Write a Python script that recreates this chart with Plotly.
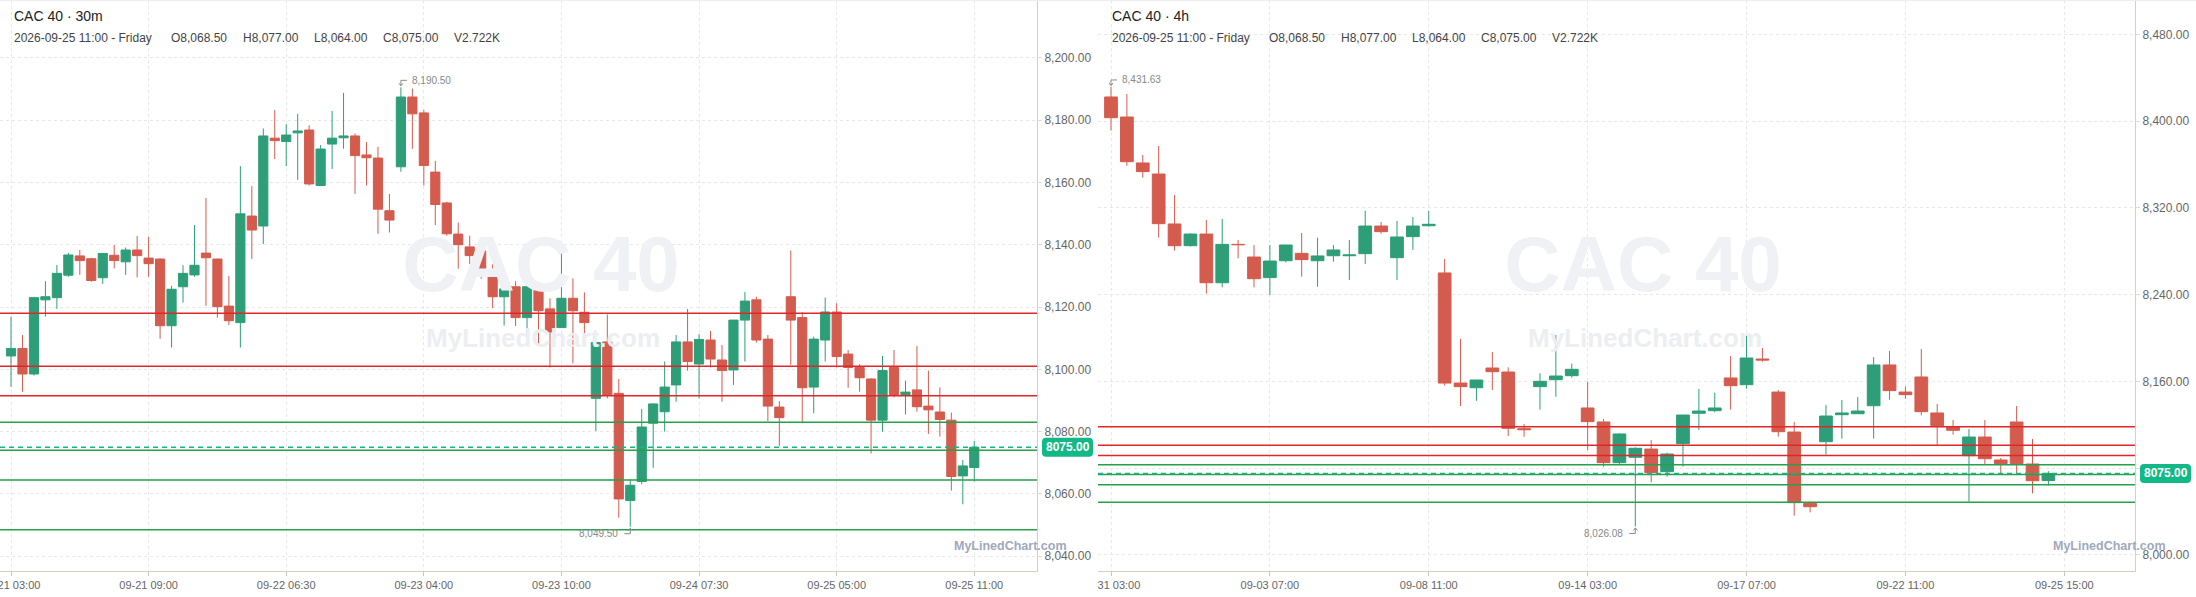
import plotly.graph_objects as go

W, H = 2196, 597
MB = 26
PH = H - MB

# ---------------- data: CAC 40 30m ----------------
left_open = [8104.3, 8106.7, 8098.5, 8122.3, 8123.0, 8130.2, 8136.4, 8135.5, 8129.4, 8136.6,
             8134.5, 8138.3, 8135.7, 8135.4, 8114.0, 8126.5, 8130.3, 8137.3, 8135.4, 8120.3,
             8115.0, 8149.2, 8146.0, 8174.2, 8173.1, 8175.9, 8176.8, 8159.0, 8172.3, 8174.3,
             8174.9, 8168.8, 8167.8, 8150.9, 8165.0, 8187.4, 8182.3, 8163.3, 8153.4, 8143.4,
             8139.3, 8138.0, 8130.9, 8123.3, 8126.5, 8116.6, 8126.5, 8119.4, 8113.4, 8122.8,
             8118.3, 8090.7, 8108.8, 8092.3, 8057.9, 8064.0, 8082.7, 8086.4, 8095.0, 8108.8,
             8101.7, 8109.4, 8103.0, 8099.8, 8115.8, 8122.3, 8109.7, 8087.9, 8123.3, 8116.6,
             8094.3, 8109.4, 8118.4, 8104.9, 8100.6, 8096.9, 8083.7, 8100.6, 8091.8, 8093.4,
             8088.2, 8086.3, 8083.7, 8065.8, 8068.5]
left_high = [8116.9, 8111.0, 8123.3, 8128.3, 8133.5, 8137.4, 8138.3, 8135.8, 8137.3, 8139.9,
             8139.1, 8142.8, 8142.5, 8135.6, 8126.8, 8133.4, 8146.3, 8155.0, 8135.5, 8130.0,
             8165.2, 8158.8, 8177.3, 8183.2, 8178.7, 8182.0, 8178.3, 8172.0, 8182.9, 8188.7,
             8175.7, 8172.9, 8171.4, 8156.3, 8190.5, 8190.1, 8183.2, 8166.9, 8153.8, 8147.1,
             8142.9, 8138.3, 8133.7, 8126.3, 8128.3, 8126.6, 8126.6, 8122.8, 8139.8, 8129.2,
             8124.7, 8108.6, 8117.6, 8096.9, 8064.7, 8087.3, 8089.0, 8102.5, 8111.0, 8119.4,
             8111.3, 8112.3, 8107.8, 8115.8, 8124.8, 8123.3, 8111.0, 8089.8, 8138.1, 8118.3,
             8110.5, 8123.0, 8121.2, 8106.2, 8101.7, 8097.1, 8104.3, 8106.2, 8096.4, 8107.5,
             8099.6, 8094.2, 8086.1, 8070.9, 8077.0]
left_low = [8094.4, 8092.8, 8098.0, 8116.9, 8119.4, 8129.7, 8130.3, 8128.1, 8127.4, 8132.4,
            8130.3, 8129.5, 8129.7, 8109.8, 8107.0, 8121.4, 8129.7, 8120.4, 8116.6, 8114.2,
            8107.0, 8135.4, 8140.2, 8167.5, 8165.2, 8160.8, 8159.0, 8158.8, 8164.3, 8170.8,
            8156.3, 8159.0, 8143.5, 8143.9, 8163.4, 8170.8, 8159.0, 8146.3, 8142.9, 8132.3,
            8133.8, 8129.1, 8119.6, 8114.0, 8113.9, 8110.3, 8107.6, 8100.6, 8113.4, 8101.9,
            8111.6, 8080.2, 8090.7, 8052.4, 8049.5, 8063.1, 8068.4, 8080.0, 8089.6, 8099.6,
            8090.7, 8100.6, 8089.6, 8095.0, 8102.5, 8108.6, 8083.4, 8075.4, 8101.4, 8082.7,
            8085.9, 8102.5, 8100.6, 8094.1, 8092.8, 8073.0, 8080.0, 8091.0, 8085.5, 8086.4,
            8079.3, 8078.4, 8061.1, 8056.7, 8064.0]
left_close = [8106.7, 8098.5, 8123.0, 8123.3, 8130.8, 8136.7, 8134.9, 8128.5, 8137.2, 8134.9,
              8138.3, 8136.5, 8133.9, 8114.0, 8125.7, 8130.8, 8133.4, 8135.8, 8120.1, 8115.6,
              8149.9, 8144.7, 8174.9, 8173.4, 8175.2, 8176.5, 8159.5, 8170.7, 8174.2, 8174.9,
              8168.6, 8167.9, 8151.4, 8147.9, 8187.4, 8182.0, 8165.4, 8152.9, 8143.5, 8140.0,
              8136.5, 8132.1, 8123.3, 8125.8, 8116.6, 8126.5, 8118.8, 8112.0, 8122.8, 8118.8,
              8115.0, 8108.6, 8091.8, 8058.4, 8062.8, 8081.5, 8088.9, 8094.3, 8108.8, 8102.5,
              8109.6, 8103.3, 8099.6, 8115.8, 8121.9, 8109.4, 8088.2, 8084.5, 8115.8, 8094.1,
              8109.7, 8118.4, 8104.1, 8100.6, 8097.3, 8083.7, 8099.6, 8091.8, 8092.7, 8088.0,
              8087.0, 8083.9, 8065.6, 8069.0, 8075.0]
left_tick_text = ["09-21 03:00", "09-21 09:00", "09-22 06:30", "09-23 04:00",
                  "09-23 10:00", "09-24 07:30", "09-25 05:00", "09-25 11:00"]
left_y_ticks = [8040, 8060, 8080, 8100, 8120, 8140, 8160, 8180, 8200]

# ---------------- data: CAC 40 4h ----------------
right_open = [8422.4, 8403.9, 8361.5, 8351.3, 8305.2, 8285.2, 8295.9, 8251.0, 8286.4, 8274.7,
              8255.7, 8271.3, 8278.1, 8271.3, 8275.9, 8275.9, 8277.8, 8303.3, 8274.1, 8293.5,
              8303.6, 8260.0, 8158.4, 8154.1, 8172.3, 8168.6, 8116.3, 8155.1, 8161.5, 8165.2,
              8135.4, 8122.5, 8084.9, 8089.9, 8097.5, 8076.6, 8102.5, 8130.5, 8132.9, 8163.1,
              8156.9, 8180.6, 8150.1, 8113.2, 8047.4, 8104.3, 8129.2, 8130.1, 8137.5, 8175.1,
              8150.1, 8164.0, 8130.8, 8117.8, 8091.4, 8108.6, 8087.4, 8122.5, 8083.7, 8068.5]
right_high = [8431.63, 8425.1, 8368.8, 8377.2, 8331.9, 8296.6, 8308.9, 8309.8, 8290.4, 8285.8,
              8285.8, 8286.0, 8296.9, 8292.6, 8285.8, 8290.4, 8317.5, 8307.0, 8307.9, 8311.6,
              8317.2, 8272.9, 8199.1, 8161.2, 8187.1, 8172.9, 8120.6, 8167.4, 8202.7, 8176.3,
              8159.7, 8125.2, 8112.0, 8099.1, 8105.8, 8094.2, 8128.9, 8152.9, 8149.5, 8183.4,
              8203.7, 8190.7, 8152.0, 8122.5, 8048.9, 8138.1, 8142.8, 8145.5, 8182.4, 8188.0,
              8155.1, 8189.8, 8139.1, 8124.3, 8116.0, 8124.3, 8089.2, 8137.2, 8106.8, 8077.0]
right_low = [8391.3, 8359.0, 8347.9, 8292.6, 8280.6, 8284.3, 8240.9, 8246.7, 8273.5, 8246.7,
             8239.7, 8269.8, 8256.6, 8247.3, 8270.4, 8253.5, 8268.3, 8296.3, 8253.5, 8281.2,
             8302.7, 8156.0, 8137.2, 8142.1, 8152.0, 8109.5, 8108.9, 8133.8, 8145.8, 8163.4,
             8096.6, 8081.2, 8082.8, 8026.08, 8066.8, 8072.0, 8081.2, 8115.1, 8131.4, 8133.8,
             8153.2, 8178.1, 8108.9, 8036.0, 8039.1, 8092.3, 8107.1, 8129.8, 8107.1, 8143.1,
             8144.0, 8128.6, 8100.6, 8110.8, 8048.9, 8083.1, 8074.8, 8073.5, 8056.6, 8064.0]
right_close = [8403.3, 8362.7, 8353.5, 8305.5, 8285.2, 8295.9, 8251.0, 8286.4, 8286.1, 8254.7,
               8271.0, 8285.8, 8272.3, 8275.7, 8281.2, 8276.6, 8303.3, 8298.1, 8293.2, 8303.3,
               8304.9, 8158.4, 8155.1, 8161.2, 8168.9, 8116.6, 8115.4, 8160.0, 8164.9, 8171.1,
               8122.8, 8084.9, 8111.4, 8098.2, 8075.7, 8092.9, 8128.9, 8132.6, 8135.4, 8156.0,
               8181.5, 8179.7, 8113.5, 8048.0, 8044.3, 8128.0, 8130.8, 8132.6, 8175.1, 8151.4,
               8147.7, 8132.0, 8119.1, 8114.8, 8108.6, 8088.6, 8084.0, 8084.0, 8068.3, 8075.0]
right_tick_text = ["08-31 03:00", "09-03 07:00", "09-08 11:00", "09-14 03:00",
                   "09-17 07:00", "09-22 11:00", "09-25 15:00"]
right_y_ticks = [8000, 8080, 8160, 8240, 8320, 8400, 8480]
right_y_hidden = [8080]   # label sits under the price tag in the reference

# levels drawn on both charts
red_levels = [8118.0, 8101.0, 8091.5]
green_levels = [8083.0, 8074.0, 8064.5, 8048.5]

header_title_left = "CAC 40 · 30m"
header_title_right = "CAC 40 · 4h"
header_items = ["2026-09-25 11:00 - Friday", "O8,068.50", "H8,077.00",
                "L8,064.00", "C8,075.00", "V2.722K"]

# ---------------- styling ----------------
GREEN = '#2e9e78'
RED = '#d35c4e'
LINE_RED = '#e0262a'
LINE_GREEN = '#26a04d'
PRICE = '#17b584'
TAN = '#d8cec3'
GRID = '#e8e8e8'
TICKC = '#666666'
FONT = 'Liberation Sans, Arial, Helvetica, sans-serif'

# panel geometry (pixels)
L_X0, L_X1 = 0, 1037
R_X0, R_X1 = 1098, 2135
L_XR = [-0.96, 89.47]
R_XR = [-0.818, 64.45]
L_YR = [8035.28, 8218.53]
R_YR = [7984.96, 8511.9]


def pxx(px):
    return px / W


def pxy(py):
    return (PH - py) / PH


def to_data_x(px, x0, x1, xr):
    return xr[0] + (px - x0) / (x1 - x0) * (xr[1] - xr[0])


def to_data_y(py, yr):
    return yr[0] + (PH - py) / PH * (yr[1] - yr[0])


fig = go.Figure()

# watermarks (below candles)
for (cx, xa, ya, x0, x1, xr, yr) in [
        (541, 'x', 'y', L_X0, L_X1, L_XR, L_YR),
        (1643, 'x2', 'y2', R_X0, R_X1, R_XR, R_YR)]:
    fig.add_trace(go.Scatter(
        x=[to_data_x(cx, x0, x1, xr)], y=[to_data_y(271, yr)],
        mode='text', text=['<b>CAC 40</b>'],
        textfont=dict(size=78, color='#f0f1f4', family=FONT),
        textposition='middle center', xaxis=xa, yaxis=ya,
        hoverinfo='skip', showlegend=False))
    fig.add_trace(go.Scatter(
        x=[to_data_x(cx + 2, x0, x1, xr)], y=[to_data_y(340, yr)],
        mode='text', text=['<b>MyLinedChart.com</b>'],
        textfont=dict(size=26, color='#eceef2', family=FONT),
        textposition='middle center', xaxis=xa, yaxis=ya,
        hoverinfo='skip', showlegend=False))

candle_style = dict(
    increasing=dict(line=dict(color=GREEN, width=1), fillcolor=GREEN),
    decreasing=dict(line=dict(color=RED, width=1), fillcolor=RED),
    whiskerwidth=0, showlegend=False, hoverinfo='skip')

fig.add_trace(go.Candlestick(
    x=list(range(len(left_open))), open=left_open, high=left_high,
    low=left_low, close=left_close, xaxis='x', yaxis='y', **candle_style))
fig.add_trace(go.Candlestick(
    x=list(range(len(right_open))), open=right_open, high=right_high,
    low=right_low, close=right_close, xaxis='x2', yaxis='y2', **candle_style))

shapes = []
annotations = []

# level lines + current price line
last_price = left_close[-1]
for xd, yr_ in [('x domain', 'y'), ('x2 domain', 'y2')]:
    for lv in red_levels:
        shapes.append(dict(type='line', xref=xd, x0=0, x1=1, yref=yr_, y0=lv, y1=lv,
                           line=dict(color=LINE_RED, width=1.5), layer='above'))
    for lv in green_levels:
        shapes.append(dict(type='line', xref=xd, x0=0, x1=1, yref=yr_, y0=lv, y1=lv,
                           line=dict(color=LINE_GREEN, width=1.5), layer='above'))
    shapes.append(dict(type='line', xref=xd, x0=0, x1=1, yref=yr_,
                       y0=last_price, y1=last_price,
                       line=dict(color=PRICE, width=1.5, dash='5px,4px'), layer='above'))

# price tags
tag_path = ("M 4,9.5 L 47,9.5 Q 51,9.5 51,5.5 L 51,-5.5 Q 51,-9.5 47,-9.5 "
            "L 4,-9.5 Q 0,-9.5 0,-5.5 L 0,5.5 Q 0,9.5 4,9.5 Z")
for ax_end, yr_ in [(L_X1, 'y'), (R_X1, 'y2')]:
    xa = pxx(ax_end + 5)
    shapes.append(dict(type='path', xref='paper', yref=yr_, xsizemode='pixel',
                       ysizemode='pixel', xanchor=xa, yanchor=last_price,
                       path=tag_path, fillcolor='#12b886', line=dict(width=0),
                       layer='above'))
    annotations.append(dict(xref='paper', yref=yr_, x=pxx(ax_end + 5 + 25.5),
                            y=last_price, text='<b>%.2f</b>' % last_price,
                            showarrow=False, xanchor='center', yanchor='middle',
                            font=dict(size=12, color='white', family=FONT)))


# max / min markers
def add_extremes(highs, lows, xref, yref):
    hi_i = max(range(len(highs)), key=lambda k: highs[k])
    lo_i = min(range(len(lows)), key=lambda k: lows[k])
    hv, lv = highs[hi_i], lows[lo_i]
    shapes.append(dict(type='path', xref=xref, yref=yref, xsizemode='pixel',
                       ysizemode='pixel', xanchor=hi_i, yanchor=hv,
                       path='M 6,7 L 0,7 L 0,1.5 M -2,4 L 0,1.5 L 2,4',
                       line=dict(color='#8a8a8a', width=1), layer='above'))
    annotations.append(dict(xref=xref, yref=yref, x=hi_i, y=hv, text=f"{hv:,.2f}",
                            showarrow=False, xanchor='left', yanchor='middle',
                            xshift=9, yshift=7,
                            font=dict(size=10, color='#888888', family=FONT)))
    shapes.append(dict(type='path', xref=xref, yref=yref, xsizemode='pixel',
                       ysizemode='pixel', xanchor=lo_i, yanchor=lv,
                       path='M -6,-7 L 0,-7 L 0,-1.5 M -2,-4 L 0,-1.5 L 2,-4',
                       line=dict(color='#8a8a8a', width=1), layer='above'))
    annotations.append(dict(xref=xref, yref=yref, x=lo_i, y=lv, text=f"{lv:,.2f}",
                            showarrow=False, xanchor='right', yanchor='middle',
                            xshift=-10, yshift=-7,
                            font=dict(size=10, color='#888888', family=FONT)))


add_extremes(left_high, left_low, 'x', 'y')
add_extremes(right_high, right_low, 'x2', 'y2')

# headers
for base, title in [(12, header_title_left), (1110, header_title_right)]:
    annotations.append(dict(xref='paper', yref='paper', x=pxx(base), y=pxy(16),
                            text=title, showarrow=False, xanchor='left', yanchor='middle',
                            font=dict(size=14, color='#222222', family=FONT)))
    offsets = [0, 157, 229, 300, 369, 440]
    for off, item in zip(offsets, header_items):
        annotations.append(dict(xref='paper', yref='paper', x=pxx(base + off), y=pxy(38),
                                text=item, showarrow=False, xanchor='left',
                                yanchor='middle',
                                font=dict(size=12, color='#444444', family=FONT)))

# small bottom-right watermarks
for right_edge in [1069, 2168]:
    annotations.append(dict(xref='paper', yref='paper', x=pxx(right_edge), y=pxy(546),
                            text='<b>MyLinedChart.com</b>', showarrow=False,
                            xanchor='right', yanchor='middle',
                            font=dict(size=12.5, color='#a0a9bb', family=FONT)))

# hide the part of the first right-panel tick label that spills into the gap
shapes.append(dict(type='rect', xref='paper', yref='paper',
                   x0=pxx(L_X1 + 1), x1=pxx(R_X0 - 0.5), y0=pxy(H + 2), y1=pxy(572),
                   fillcolor='white', line=dict(width=0), layer='above'))
# faint top border
shapes.append(dict(type='line', xref='paper', yref='paper', x0=0, x1=1,
                   y0=pxy(0.5), y1=pxy(0.5), line=dict(color='#eeeeee', width=1),
                   layer='above'))


def xaxis_cfg(dom, rng, tickvals, ticktext, anchor):
    return dict(domain=dom, range=rng, tickmode='array', tickvals=tickvals,
                ticktext=ticktext, showgrid=True, gridcolor=GRID, gridwidth=1,
                griddash='3px,3px', showline=True, linecolor=TAN, linewidth=1,
                ticks='outside', ticklen=4, tickcolor='#cfc6bb',
                tickfont=dict(size=11, color=TICKC, family=FONT), zeroline=False,
                rangeslider=dict(visible=False), ticklabeloverflow='allow',
                fixedrange=True, anchor=anchor)


def yaxis_cfg(rng, tickvals, anchor, hidden=()):
    texts = ['' if v in hidden else f"{v:,.2f}" for v in tickvals]
    return dict(domain=[0, 1], range=rng, side='right', anchor=anchor,
                tickmode='array', tickvals=tickvals, ticktext=texts,
                showgrid=True, gridcolor=GRID, gridwidth=1, griddash='3px,3px',
                showline=True, linecolor=TAN, linewidth=1, ticks='outside',
                ticklen=4, tickcolor='#dddddd',
                tickfont=dict(size=12, color=TICKC, family=FONT), zeroline=False,
                fixedrange=True)


fig.update_layout(
    width=W, height=H,
    margin=dict(l=0, r=0, t=0, b=MB, autoexpand=False),
    paper_bgcolor='white', plot_bgcolor='white',
    showlegend=False, hovermode=False,
    boxgap=0.2, boxgroupgap=0,
    font=dict(family=FONT),
    xaxis=xaxis_cfg([pxx(L_X0), pxx(L_X1)], L_XR,
                    list(range(0, len(left_open), 12)), left_tick_text, 'y'),
    xaxis2=xaxis_cfg([pxx(R_X0), pxx(R_X1)], R_XR,
                     list(range(0, len(right_open) + 1, 10)), right_tick_text, 'y2'),
    yaxis=yaxis_cfg(L_YR, left_y_ticks, 'x'),
    yaxis2=yaxis_cfg(R_YR, right_y_ticks, 'x2', right_y_hidden),
    shapes=shapes,
    annotations=annotations,
)

fig.write_html("out.html", config={'displayModeBar': False},
               post_script="document.body.style.margin='0';"
                           "document.body.style.overflow='hidden';")
